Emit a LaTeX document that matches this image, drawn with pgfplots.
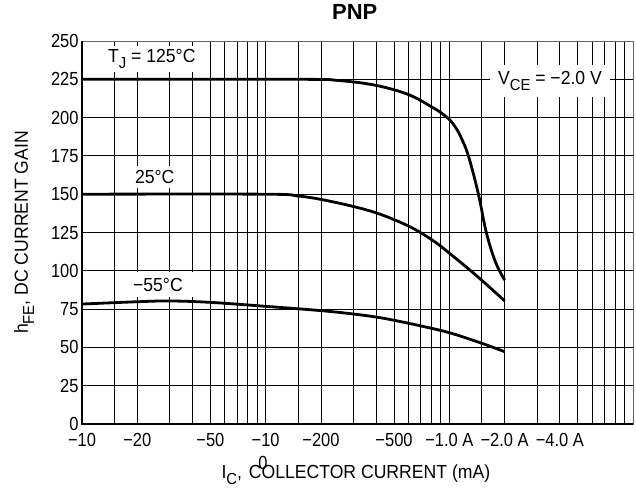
\documentclass[border=0pt]{standalone}
\usepackage{fontspec}
\setmainfont{Liberation Sans}[FakeStretch=0.93]
\newfontfamily\tickfont{Liberation Sans}[FakeStretch=0.87]
\newfontfamily\titlefont{Liberation Sans}
\usepackage{pgfplots}
\pgfplotsset{compat=1.18}
\newcommand\lbl{\fontsize{19}{21}\selectfont}
\newcommand\sub[1]{\raisebox{-0.32em}{\fontsize{16}{16}\selectfont #1}}
\tikzset{curve/.style={black, line width=2.8bp, smooth, tension=0.6}}
\begin{document}
\begin{tikzpicture}
\begin{axis}[
  at={(0,0)}, anchor=south west,
  scale only axis, width=551bp, height=383bp,
  xmode=log, xmin=10, xmax=10000,
  ymin=0, ymax=250,
  xtick={10,20,50,100,200,500,1000,2000,4000},
  xticklabels={−10,−20,−50,−10,−200,−500,−1.0 A,−2.0 A,−4.0 A},
  minor xtick={15,30,40,60,70,80,90,150,300,400,600,700,800,900,1500,3000,5000,6000,7000,8000,9000},
  ytick={0,25,...,250},
  /pgf/number format/assume math mode=true,
  ticklabel style={font=\tickfont\lbl},
  xticklabel style={yshift=-6bp},
  major tick length=0pt, minor tick length=0pt,
  grid=both,
  major grid style={black, line width=0.9bp},
  minor grid style={black, line width=0.9bp},
  axis line style={black!60, line width=0.8bp},
  title={\titlefont\bfseries\fontsize{22}{24}\selectfont PNP},
  title style={at={(axis description cs:0.495,1.06)}, anchor=center},
  xlabel={\lbl I\sub{C},\kern2bp{} COLLECTOR CURRENT (mA)},
  xlabel style={at={(axis description cs:0.497,-0.133)}, anchor=center},
  ylabel={\lbl h\sub{FE}, DC CURRENT GAIN},
  ylabel style={at={(axis description cs:-0.105,0.5)}, anchor=center},
  clip=false,
  after end axis/.code={
    \draw[black, line width=2.4bp] (rel axis cs:0,1) -- (rel axis cs:0,0) -- (rel axis cs:1,0);
  }
]
% T_J = 125 C
\addplot[curve] coordinates {(10,225) (150,225) (250,224.2) (400,221) (600,215) (800,207) (900,203.2) (1000,198.8) (1075,194) (1150,187.8) (1270,175) (1440,150) (1590,125) (1780,106) (2000,94)};
% 25 C
\addplot[curve] coordinates {(10,150) (100,150) (150,148.8) (200,146.6) (300,142) (400,137.8) (500,133.4) (600,129.2) (700,124.8) (850,118.2) (1000,111.5) (1400,97) (2000,80.4)};
% -55 C
\addplot[curve] coordinates {(10,78.3) (20,79.8) (30,80.3) (50,79.4) (100,76.8) (200,74) (300,71.8) (400,69.8) (500,67.7) (700,64) (1000,59.6) (1500,52.7) (2000,47.2)};

\node[fill=white, inner sep=0pt, minimum width=112bp, minimum height=26bp, font=\lbl] at (axis cs:24,238) {T\sub{J} = 125°C};
\node[fill=white, inner sep=0pt, minimum width=66bp, minimum height=22bp, font=\lbl] at (axis cs:24.9,161.2) {25°C};
\node[fill=white, inner sep=0pt, minimum width=72bp, minimum height=25bp, font=\lbl] at (axis cs:25.9,91) {−55°C};
\node[fill=white, inner sep=0pt, minimum width=120bp, minimum height=32bp, font=\lbl] at (axis cs:3532,223.9) {V\sub{CE} = −2.0 V};
\node[font=\tickfont\lbl, inner sep=0pt] at (axis cs:96.6,-25.5) {0};
\end{axis}
\pgfresetboundingbox
\path[use as bounding box] (-82bp,-65bp) rectangle (554bp,424bp);
\end{tikzpicture}
\end{document}
